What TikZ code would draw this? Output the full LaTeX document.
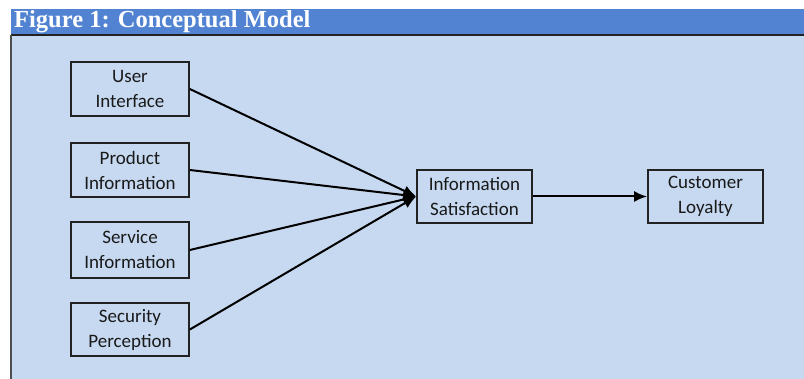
\documentclass[tikz,border=0pt]{standalone}
\usepackage{fontspec}
\setmainfont{Carlito}
\newfontfamily\titlefont{Liberation Serif}
\usetikzlibrary{arrows.meta}
\definecolor{bodyblue}{HTML}{C6D9F0}
\definecolor{headblue}{HTML}{5183D2}
\definecolor{edgegray}{HTML}{222222}
\tikzset{
  conbox/.style={draw=edgegray, line width=1.7pt, align=center, inner sep=0pt,
    font=\fontsize{19}{25}\selectfont, text=black!90},
  conarrow/.style={draw=black, line width=2pt, -{Latex[length=13pt,width=11pt]}}
}
\begin{document}
\begin{tikzpicture}[x=1pt,y=-1pt]
\useasboundingbox (0,0) rectangle (804,379);
\fill[white] (0,0) rectangle (804,379);
\fill[bodyblue] (11,35) rectangle (804,379);
\fill[headblue] (11,9) rectangle (804,34);
\draw[edgegray, line width=1.6pt] (11,35) -- (804,35);
\draw[edgegray!80, line width=1.2pt] (11,35) -- (11,379);
\node[anchor=west, text=white, font=\titlefont\bfseries\fontsize{24.5}{26}\selectfont, inner sep=0pt] (title) at (14,22) {Figure 1: Conceptual Model};

\node[conbox, minimum width=118pt, minimum height=54pt] (ui) at (130,89) {User\\Interface};
\node[conbox, minimum width=118pt, minimum height=54pt] (pi) at (130,170) {Product\\Information};
\node[conbox, minimum width=118pt, minimum height=56pt] (si) at (130,250) {Service\\Information};
\node[conbox, minimum width=118pt, minimum height=53pt] (sp) at (130,329.5) {Security\\Perception};
\node[conbox, minimum width=115pt, minimum height=53pt] (is) at (474.5,196.5) {Information\\Satisfaction};
\node[conbox, minimum width=115pt, minimum height=53pt] (cl) at (705.5,196.5) {Customer\\Loyalty};

\draw[conarrow] (ui.east) -- (is.west);
\draw[conarrow] (pi.east) -- (is.west);
\draw[conarrow] (si.east) -- (is.west);
\draw[conarrow] (sp.east) -- (is.west);
\draw[conarrow] (is.east) -- (cl.west);
\end{tikzpicture}
\end{document}
